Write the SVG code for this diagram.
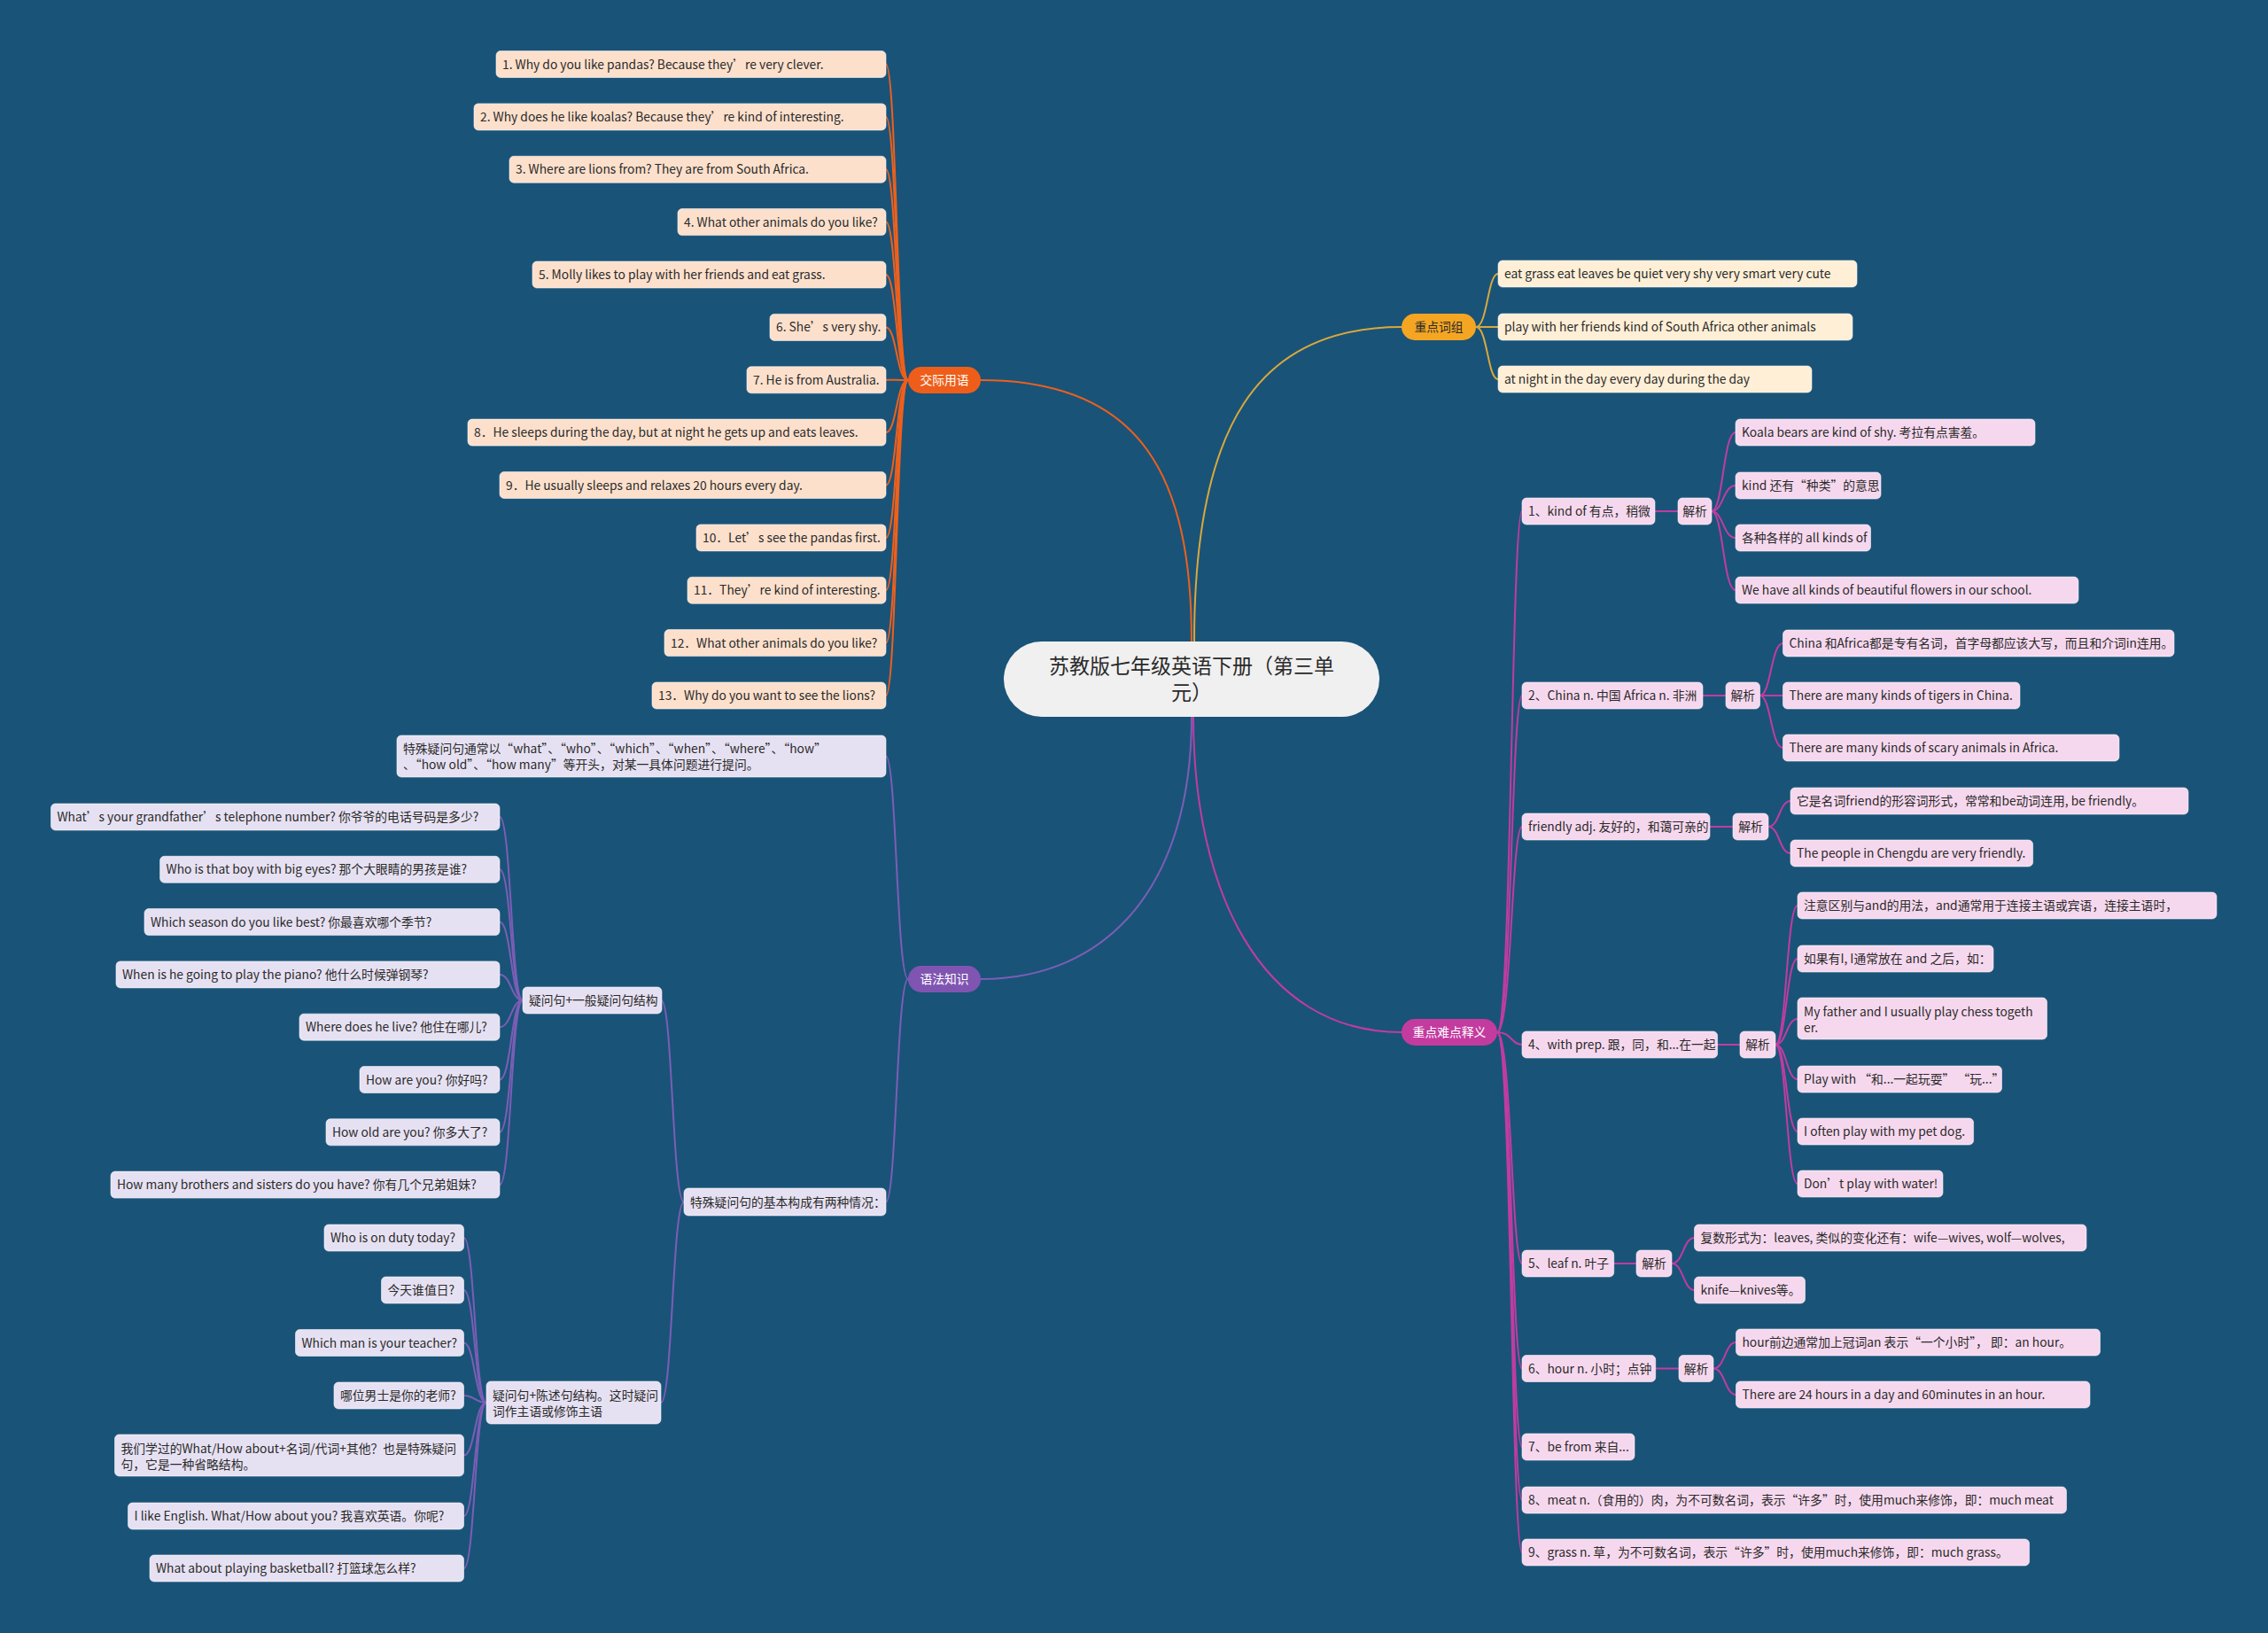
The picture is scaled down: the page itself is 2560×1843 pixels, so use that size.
<svg xmlns="http://www.w3.org/2000/svg" width="2560" height="1843" viewBox="0 0 2560 1843">
<style>
.tx{font-family:"Noto Sans CJK SC","Liberation Sans",sans-serif;font-size:13.8px;fill:#2a2a2a}
.ctr{text-anchor:middle}
.wt{fill:#ffffff}
.box{stroke:#ffffff;stroke-opacity:0.55;stroke-width:1}
.o{fill:#FCE0CC}
.g{fill:#FEEFD6}
.p{fill:#E6E1F2}
.m{fill:#F6D8EE}
.c{fill:none;stroke-linecap:round}
.co{stroke:#EE601C;stroke-width:2}
.cg{stroke:#D9A93C;stroke-width:2}
.cp{stroke:#7B5EB6;stroke-width:2}
.cm{stroke:#C03CA2;stroke-width:2}
</style>
<rect x="0" y="0" width="2560" height="1843" fill="#1A5378"/>

<g id="connectors">
  <path class="c co" stroke-width="2.5" d="M1345 724 C1345 540 1290 429 1107 429"/>
  <path class="c cg" stroke-width="2.5" d="M1348 724 C1348 480 1420 369 1582 369"/>
  <path class="c cp" stroke-width="2.5" d="M1345 809 C1345 1000 1250 1105 1107 1105"/>
  <path class="c cm" stroke-width="2.5" d="M1347 809 C1347 1000 1420 1165 1582 1165"/>
  <path class="c co" d="M1025 429 C1012 429 1012 72.5 1000 72.5"/>
  <path class="c co" d="M1025 429 C1012 429 1012 131.9 1000 131.9"/>
  <path class="c co" d="M1025 429 C1012 429 1012 191.25 1000 191.25"/>
  <path class="c co" d="M1025 429 C1012 429 1012 250.6 1000 250.6"/>
  <path class="c co" d="M1025 429 C1012 429 1012 310 1000 310"/>
  <path class="c co" d="M1025 429 C1012 429 1012 369.4 1000 369.4"/>
  <path class="c co" d="M1025 429 C1012 429 1012 428.75 1000 428.75"/>
  <path class="c co" d="M1025 429 C1012 429 1012 488.1 1000 488.1"/>
  <path class="c co" d="M1025 429 C1012 429 1012 547.5 1000 547.5"/>
  <path class="c co" d="M1025 429 C1012 429 1012 606.9 1000 606.9"/>
  <path class="c co" d="M1025 429 C1012 429 1012 666.25 1000 666.25"/>
  <path class="c co" d="M1025 429 C1012 429 1012 725.6 1000 725.6"/>
  <path class="c co" d="M1025 429 C1012 429 1012 785 1000 785"/>
  <path class="c cg" d="M1666 369 C1679 369 1679 309 1691 309"/>
  <path class="c cg" d="M1666 369 C1679 369 1679 369 1691 369"/>
  <path class="c cg" d="M1666 369 C1679 369 1679 428 1691 428"/>
  <path class="c cp" d="M1025 1105 C1012 1105 1012 853.5 1000 853.5"/>
  <path class="c cp" d="M1025 1105 C1012 1105 1012 1356.5 1000 1356.5"/>
  <path class="c cp" d="M772 1356.5 C759 1356.5 759 1129 746.5 1129"/>
  <path class="c cp" d="M772 1356.5 C759 1356.5 759 1583 746 1583"/>
  <path class="c cp" d="M590 1129 C577 1129 577 922 564 922"/>
  <path class="c cp" d="M590 1129 C577 1129 577 981.3 564 981.3"/>
  <path class="c cp" d="M590 1129 C577 1129 577 1040.6 564 1040.6"/>
  <path class="c cp" d="M590 1129 C577 1129 577 1099.9 564 1099.9"/>
  <path class="c cp" d="M590 1129 C577 1129 577 1159.2 564 1159.2"/>
  <path class="c cp" d="M590 1129 C577 1129 577 1218.5 564 1218.5"/>
  <path class="c cp" d="M590 1129 C577 1129 577 1277.8 564 1277.8"/>
  <path class="c cp" d="M590 1129 C577 1129 577 1337.1 564 1337.1"/>
  <path class="c cp" d="M549 1583 C536 1583 536 1397 523.5 1397"/>
  <path class="c cp" d="M549 1583 C536 1583 536 1456 523.5 1456"/>
  <path class="c cp" d="M549 1583 C536 1583 536 1515.5 523.5 1515.5"/>
  <path class="c cp" d="M549 1583 C536 1583 536 1575 523.5 1575"/>
  <path class="c cp" d="M549 1583 C536 1583 536 1642.5 523.5 1642.5"/>
  <path class="c cp" d="M549 1583 C536 1583 536 1711 523.5 1711"/>
  <path class="c cp" d="M549 1583 C536 1583 536 1770 523.5 1770"/>
  <path class="c cm" d="M1690 1165 C1706 1165 1706 577 1718 577"/>
  <path class="c cm" d="M1690 1165 C1706 1165 1706 785 1718 785"/>
  <path class="c cm" d="M1690 1165 C1706 1165 1706 933 1718 933"/>
  <path class="c cm" d="M1690 1165 C1706 1165 1706 1179 1718 1179"/>
  <path class="c cm" d="M1690 1165 C1706 1165 1706 1426 1718 1426"/>
  <path class="c cm" d="M1690 1165 C1706 1165 1706 1544.5 1718 1544.5"/>
  <path class="c cm" d="M1690 1165 C1706 1165 1706 1633 1718 1633"/>
  <path class="c cm" d="M1690 1165 C1706 1165 1706 1693 1718 1693"/>
  <path class="c cm" d="M1690 1165 C1706 1165 1706 1752 1718 1752"/>
  <path class="c cm" stroke-width="3" d="M1868 577 H1894"/>
  <path class="c cm" stroke-width="3" d="M1922 785 H1948"/>
  <path class="c cm" stroke-width="3" d="M1930 933 H1956"/>
  <path class="c cm" stroke-width="3" d="M1938.6 1179 H1964"/>
  <path class="c cm" stroke-width="3" d="M1821.7 1426 H1847"/>
  <path class="c cm" stroke-width="3" d="M1868.7 1544.5 H1895"/>
  <path class="c cm" d="M1932 577 C1945 577 1945 488 1959 488"/>
  <path class="c cm" d="M1932 577 C1945 577 1945 548 1959 548"/>
  <path class="c cm" d="M1932 577 C1945 577 1945 607 1959 607"/>
  <path class="c cm" d="M1932 577 C1945 577 1945 666 1959 666"/>
  <path class="c cm" d="M1986.5 785 C1999 785 1999 726 2012.5 726"/>
  <path class="c cm" d="M1986.5 785 C1999 785 1999 785 2012.5 785"/>
  <path class="c cm" d="M1986.5 785 C1999 785 1999 844 2012.5 844"/>
  <path class="c cm" d="M1996 933 C2008.5 933 2008.5 904 2021 904"/>
  <path class="c cm" d="M1996 933 C2008.5 933 2008.5 963 2021 963"/>
  <path class="c cm" d="M2004 1179 C2016.5 1179 2016.5 1022 2029 1022"/>
  <path class="c cm" d="M2004 1179 C2016.5 1179 2016.5 1082 2029 1082"/>
  <path class="c cm" d="M2004 1179 C2016.5 1179 2016.5 1150 2029 1150"/>
  <path class="c cm" d="M2004 1179 C2016.5 1179 2016.5 1218 2029 1218"/>
  <path class="c cm" d="M2004 1179 C2016.5 1179 2016.5 1277 2029 1277"/>
  <path class="c cm" d="M2004 1179 C2016.5 1179 2016.5 1336 2029 1336"/>
  <path class="c cm" d="M1887 1426 C1900 1426 1900 1397 1912.5 1397"/>
  <path class="c cm" d="M1887 1426 C1900 1426 1900 1456 1912.5 1456"/>
  <path class="c cm" d="M1934 1544.5 C1947 1544.5 1947 1515 1959.5 1515"/>
  <path class="c cm" d="M1934 1544.5 C1947 1544.5 1947 1574 1959.5 1574"/>
</g>

<g id="root">
  <rect x="1133" y="724" width="424" height="85" rx="42.5" fill="#F0F0F0"/>
  <text class="tx ctr" x="1345" y="760" style="font-size:23px" fill="#333">苏教版七年级英语下册（第三单</text>
  <text class="tx ctr" x="1345" y="790" style="font-size:23px" fill="#333">元）</text>
</g>

<g id="b-jiaoji">
  <rect x="1025" y="414" width="82" height="30" rx="15" fill="#EE5E1A"/>
  <text class="tx ctr wt" x="1066" y="434">交际用语</text>
</g>
<g id="b-cizu">
  <rect x="1582" y="354" width="84" height="30" rx="15" fill="#F4A623"/>
  <text class="tx ctr" x="1624" y="374" fill="#4a2e00">重点词组</text>
</g>
<g id="b-yufa">
  <rect x="1025" y="1090" width="82" height="30" rx="15" fill="#8055B2"/>
  <text class="tx ctr wt" x="1066" y="1110">语法知识</text>
</g>
<g id="b-nandian">
  <rect x="1582" y="1150" width="108" height="30" rx="15" fill="#C43B9F"/>
  <text class="tx ctr wt" x="1636" y="1170">重点难点释义</text>
</g>

<g id="o1"><rect class="box o" x="560" y="57.5" width="440" height="30" rx="5"/><text class="tx" x="567" y="77.5">1. Why do you like pandas? Because they’re very clever.</text></g>
<g id="o2"><rect class="box o" x="535" y="116.9" width="465" height="30" rx="5"/><text class="tx" x="542" y="136.9">2. Why does he like koalas? Because they’re kind of interesting.</text></g>
<g id="o3"><rect class="box o" x="575" y="176.25" width="425" height="30" rx="5"/><text class="tx" x="582" y="196.25">3. Where are lions from? They are from South Africa.</text></g>
<g id="o4"><rect class="box o" x="765" y="235.6" width="235" height="30" rx="5"/><text class="tx" x="772" y="255.6">4. What other animals do you like?</text></g>
<g id="o5"><rect class="box o" x="601" y="295" width="399" height="30" rx="5"/><text class="tx" x="608" y="315">5. Molly likes to play with her friends and eat grass.</text></g>
<g id="o6"><rect class="box o" x="869" y="354.4" width="131" height="30" rx="5"/><text class="tx" x="876" y="374.4">6. She’s very shy.</text></g>
<g id="o7"><rect class="box o" x="843" y="413.75" width="157" height="30" rx="5"/><text class="tx" x="850" y="433.75">7. He is from Australia.</text></g>
<g id="o8"><rect class="box o" x="528" y="473.1" width="472" height="30" rx="5"/><text class="tx" x="535" y="493.1">8．He sleeps during the day, but at night he gets up and eats leaves.</text></g>
<g id="o9"><rect class="box o" x="564" y="532.5" width="436" height="30" rx="5"/><text class="tx" x="571" y="552.5">9．He usually sleeps and relaxes 20 hours every day.</text></g>
<g id="o10"><rect class="box o" x="786" y="591.9" width="214" height="30" rx="5"/><text class="tx" x="793" y="611.9">10．Let’s see the pandas first.</text></g>
<g id="o11"><rect class="box o" x="776" y="651.25" width="224" height="30" rx="5"/><text class="tx" x="783" y="671.25">11．They’re kind of interesting.</text></g>
<g id="o12"><rect class="box o" x="750" y="710.6" width="250" height="30" rx="5"/><text class="tx" x="757" y="730.6">12．What other animals do you like?</text></g>
<g id="o13"><rect class="box o" x="736" y="770" width="264" height="30" rx="5"/><text class="tx" x="743" y="790">13．Why do you want to see the lions?</text></g>

<g id="g1"><rect class="box g" x="1691" y="294" width="405" height="30" rx="5"/><text class="tx" x="1698" y="314" fill="#4a3010">eat grass eat leaves be quiet very shy very smart very cute</text></g>
<g id="g2"><rect class="box g" x="1691" y="354" width="400" height="30" rx="5"/><text class="tx" x="1698" y="374" fill="#4a3010">play with her friends kind of South Africa other animals</text></g>
<g id="g3"><rect class="box g" x="1691" y="413" width="354" height="30" rx="5"/><text class="tx" x="1698" y="433" fill="#4a3010">at night in the day every day during the day</text></g>

<g id="p1"><rect class="box p" x="448" y="830" width="552" height="47" rx="5"/>
  <text class="tx" x="455" y="850">特殊疑问句通常以“what”、“who”、“which”、“when”、“where”、“how”</text>
  <text class="tx" x="455" y="868">、“how old”、“how many”等开头，对某一具体问题进行提问。</text></g>
<g id="p2"><rect class="box p" x="772" y="1341" width="228" height="31" rx="5"/><text class="tx" x="779" y="1361.5">特殊疑问句的基本构成有两种情况：</text></g>
<g id="q1"><rect class="box p" x="590" y="1114" width="157" height="30" rx="5"/><text class="tx" x="597" y="1134">疑问句+一般疑问句结构</text></g>
<g id="q2"><rect class="box p" x="549" y="1559" width="197" height="48" rx="5"/>
  <text class="tx" x="556" y="1580">疑问句+陈述句结构。这时疑问</text>
  <text class="tx" x="556" y="1598">词作主语或修饰主语</text></g>

<g id="q1a"><rect class="box p" x="57.5" y="907" width="506.5" height="30" rx="5"/><text class="tx" x="64.5" y="927">What’s your grandfather’s telephone number? 你爷爷的电话号码是多少?</text></g>
<g id="q1b"><rect class="box p" x="180.6" y="966.3" width="383.4" height="30" rx="5"/><text class="tx" x="187.6" y="986.3">Who is that boy with big eyes? 那个大眼睛的男孩是谁?</text></g>
<g id="q1c"><rect class="box p" x="163" y="1025.6" width="401" height="30" rx="5"/><text class="tx" x="170" y="1045.6">Which season do you like best? 你最喜欢哪个季节?</text></g>
<g id="q1d"><rect class="box p" x="131" y="1084.9" width="433" height="30" rx="5"/><text class="tx" x="138" y="1104.9">When is he going to play the piano? 他什么时候弹钢琴?</text></g>
<g id="q1e"><rect class="box p" x="338" y="1144.2" width="226" height="30" rx="5"/><text class="tx" x="345" y="1164.2">Where does he live? 他住在哪儿?</text></g>
<g id="q1f"><rect class="box p" x="406" y="1203.5" width="158" height="30" rx="5"/><text class="tx" x="413" y="1223.5">How are you? 你好吗?</text></g>
<g id="q1g"><rect class="box p" x="368" y="1262.8" width="196" height="30" rx="5"/><text class="tx" x="375" y="1282.8">How old are you? 你多大了?</text></g>
<g id="q1h"><rect class="box p" x="125" y="1322.1" width="439" height="30" rx="5"/><text class="tx" x="132" y="1342.1">How many brothers and sisters do you have? 你有几个兄弟姐妹?</text></g>

<g id="q2a"><rect class="box p" x="366" y="1382" width="157.5" height="30" rx="5"/><text class="tx" x="373" y="1402">Who is on duty today?</text></g>
<g id="q2b"><rect class="box p" x="430.5" y="1441" width="93" height="30" rx="5"/><text class="tx" x="437.5" y="1461">今天谁值日?</text></g>
<g id="q2c"><rect class="box p" x="333.5" y="1500.5" width="190" height="30" rx="5"/><text class="tx" x="340.5" y="1520.5">Which man is your teacher?</text></g>
<g id="q2d"><rect class="box p" x="377" y="1560" width="146.5" height="30" rx="5"/><text class="tx" x="384" y="1580">哪位男士是你的老师?</text></g>
<g id="q2e"><rect class="box p" x="129.5" y="1619" width="394" height="47" rx="5"/>
  <text class="tx" x="136.5" y="1640">我们学过的What/How about+名词/代词+其他？也是特殊疑问</text>
  <text class="tx" x="136.5" y="1658">句，它是一种省略结构。</text></g>
<g id="q2f"><rect class="box p" x="144.5" y="1696" width="379" height="30" rx="5"/><text class="tx" x="151.5" y="1716">I like English. What/How about you? 我喜欢英语。你呢?</text></g>
<g id="q2g"><rect class="box p" x="169" y="1755" width="354.5" height="30" rx="5"/><text class="tx" x="176" y="1775">What about playing basketball? 打篮球怎么样?</text></g>

<g id="m1"><rect class="box m" x="1718" y="562" width="150" height="30" rx="5"/><text class="tx" x="1725" y="582">1、kind of 有点，稍微</text></g>
<g id="m2"><rect class="box m" x="1718" y="770" width="204" height="30" rx="5"/><text class="tx" x="1725" y="790">2、China n. 中国 Africa n. 非洲</text></g>
<g id="m3"><rect class="box m" x="1718" y="918" width="212" height="30" rx="5"/><text class="tx" x="1725" y="938">friendly adj. 友好的，和蔼可亲的</text></g>
<g id="m4"><rect class="box m" x="1718" y="1164" width="220.6" height="30" rx="5"/><text class="tx" x="1725" y="1184">4、with prep. 跟，同，和...在一起</text></g>
<g id="m5"><rect class="box m" x="1718" y="1411" width="103.7" height="30" rx="5"/><text class="tx" x="1725" y="1431">5、leaf n. 叶子</text></g>
<g id="m6"><rect class="box m" x="1718" y="1529.5" width="150.7" height="30" rx="5"/><text class="tx" x="1725" y="1549.5">6、hour n. 小时；点钟</text></g>
<g id="m7"><rect class="box m" x="1718" y="1618" width="127" height="30" rx="5"/><text class="tx" x="1725" y="1638">7、be from 来自...</text></g>
<g id="m8"><rect class="box m" x="1718" y="1678" width="614.5" height="30" rx="5"/><text class="tx" x="1725" y="1698">8、meat n.（食用的）肉，为不可数名词，表示“许多”时，使用much来修饰，即：much meat</text></g>
<g id="m9"><rect class="box m" x="1718" y="1737" width="572.6" height="30" rx="5"/><text class="tx" x="1725" y="1757">9、grass n. 草，为不可数名词，表示“许多”时，使用much来修饰，即：much grass。</text></g>

<g id="j1"><rect class="box m" x="1894" y="562" width="38" height="30" rx="5"/><text class="tx ctr" x="1913" y="582">解析</text></g>
<g id="j2"><rect class="box m" x="1948" y="770" width="38.5" height="30" rx="5"/><text class="tx ctr" x="1967.2" y="790">解析</text></g>
<g id="j3"><rect class="box m" x="1956" y="918" width="40" height="30" rx="5"/><text class="tx ctr" x="1976" y="938">解析</text></g>
<g id="j4"><rect class="box m" x="1964" y="1164" width="40" height="30" rx="5"/><text class="tx ctr" x="1984" y="1184">解析</text></g>
<g id="j5"><rect class="box m" x="1847" y="1411" width="40" height="30" rx="5"/><text class="tx ctr" x="1867" y="1431">解析</text></g>
<g id="j6"><rect class="box m" x="1895" y="1529.5" width="39" height="30" rx="5"/><text class="tx ctr" x="1914.5" y="1549.5">解析</text></g>

<g id="j1a"><rect class="box m" x="1959" y="473" width="338" height="30" rx="5"/><text class="tx" x="1966" y="493">Koala bears are kind of shy. 考拉有点害羞。</text></g>
<g id="j1b"><rect class="box m" x="1959" y="533" width="164" height="30" rx="5"/><text class="tx" x="1966" y="553">kind 还有“种类”的意思</text></g>
<g id="j1c"><rect class="box m" x="1959" y="592" width="152.5" height="30" rx="5"/><text class="tx" x="1966" y="612">各种各样的 all kinds of</text></g>
<g id="j1d"><rect class="box m" x="1959" y="651" width="387" height="30" rx="5"/><text class="tx" x="1966" y="671">We have all kinds of beautiful flowers in our school.</text></g>

<g id="j2a"><rect class="box m" x="2012.5" y="711" width="441.5" height="30" rx="5"/><text class="tx" x="2019.5" y="731">China 和Africa都是专有名词，首字母都应该大写，而且和介词in连用。</text></g>
<g id="j2b"><rect class="box m" x="2012.5" y="770" width="267.5" height="30" rx="5"/><text class="tx" x="2019.5" y="790">There are many kinds of tigers in China.</text></g>
<g id="j2c"><rect class="box m" x="2012.5" y="829" width="379.5" height="30" rx="5"/><text class="tx" x="2019.5" y="849">There are many kinds of scary animals in Africa.</text></g>

<g id="j3a"><rect class="box m" x="2021" y="889" width="449" height="30" rx="5"/><text class="tx" x="2028" y="909">它是名词friend的形容词形式，常常和be动词连用, be friendly。</text></g>
<g id="j3b"><rect class="box m" x="2021" y="948" width="273.6" height="30" rx="5"/><text class="tx" x="2028" y="968">The people in Chengdu are very friendly.</text></g>

<g id="j4a"><rect class="box m" x="2029" y="1007" width="473" height="30" rx="5"/><text class="tx" x="2036" y="1027">注意区别与and的用法，and通常用于连接主语或宾语，连接主语时，</text></g>
<g id="j4b"><rect class="box m" x="2029" y="1067" width="221" height="30" rx="5"/><text class="tx" x="2036" y="1087">如果有I, I通常放在 and 之后，如：</text></g>
<g id="j4c"><rect class="box m" x="2029" y="1126" width="281.5" height="47" rx="5"/>
  <text class="tx" x="2036" y="1146.5">My father and I usually play chess togeth</text>
  <text class="tx" x="2036" y="1164.5">er.</text></g>
<g id="j4d"><rect class="box m" x="2029" y="1203" width="230.5" height="30" rx="5"/><text class="tx" x="2036" y="1223">Play with “和...一起玩耍” “玩...”</text></g>
<g id="j4e"><rect class="box m" x="2029" y="1262" width="198.6" height="30" rx="5"/><text class="tx" x="2036" y="1282">I often play with my pet dog.</text></g>
<g id="j4f"><rect class="box m" x="2029" y="1321" width="164" height="30" rx="5"/><text class="tx" x="2036" y="1341">Don’t play with water!</text></g>

<g id="j5a"><rect class="box m" x="1912.5" y="1382" width="442.5" height="30" rx="5"/><text class="tx" x="1919.5" y="1402">复数形式为：leaves, 类似的变化还有：wife—wives, wolf—wolves,</text></g>
<g id="j5b"><rect class="box m" x="1912.5" y="1441" width="125" height="30" rx="5"/><text class="tx" x="1919.5" y="1461">knife—knives等。</text></g>

<g id="j6a"><rect class="box m" x="1959.5" y="1500" width="411" height="30" rx="5"/><text class="tx" x="1966.5" y="1520">hour前边通常加上冠词an 表示“一个小时”， 即：an hour。</text></g>
<g id="j6b"><rect class="box m" x="1959.5" y="1559" width="399.5" height="30" rx="5"/><text class="tx" x="1966.5" y="1579">There are 24 hours in a day and 60minutes in an hour.</text></g>
</svg>
